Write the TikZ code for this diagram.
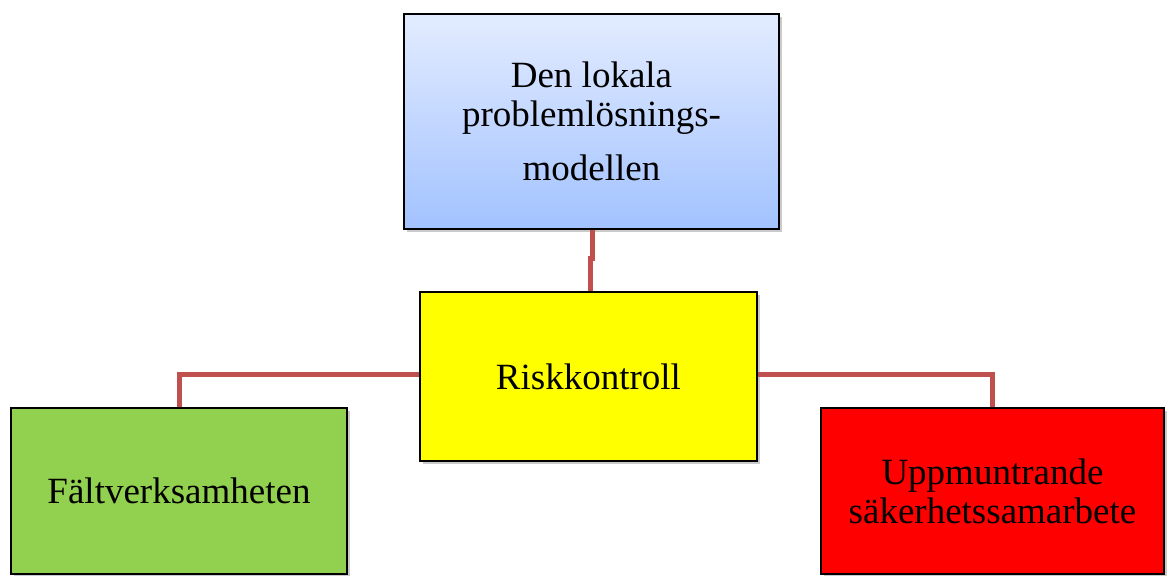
\documentclass[tikz,border=0pt]{standalone}
\usepackage{fontspec}
\setmainfont{Liberation Serif}
\usetikzlibrary{shadows}
\definecolor{conncol}{HTML}{C0504D}
\definecolor{bluetop}{HTML}{E3ECFF}
\definecolor{bluebot}{HTML}{A2C2FF}
\definecolor{greenfill}{HTML}{92D050}
\definecolor{yellowfill}{HTML}{FFFF00}
\definecolor{redfill}{HTML}{FF0000}
\tikzset{
  box/.style={draw=black, line width=2pt, rectangle, inner sep=0pt, align=center,
    font=\fontsize{37}{39}\selectfont, text=black,
    drop shadow={shadow xshift=3pt, shadow yshift=-3pt, opacity=0.35, fill=black!60}},
  conn/.style={draw=conncol, line width=5pt}
}
\begin{document}
\begin{tikzpicture}[x=1pt,y=-1pt]
\useasboundingbox (0,0) rectangle (1171,576);
\node[box, minimum width=375pt, minimum height=215pt, top color=bluetop, bottom color=bluebot]
  (top) at (591.5,121.5) {Den lokala\\problemlösnings-\\[15pt]modellen};
\node[box, minimum width=337pt, minimum height=169pt, fill=yellowfill]
  (risk) at (588.5,376.5) {Riskkontroll};
\node[box, minimum width=336pt, minimum height=166pt, fill=greenfill]
  (falt) at (179,491) {Fältverksamheten};
\node[box, minimum width=343pt, minimum height=166pt, fill=redfill]
  (upp) at (992.5,491) {Uppmuntrande\\säkerhetssamarbete};
\coordinate (jog) at (592.5,258);
\draw[conn] (top.south -| jog) -- (jog) -- (jog -| 590,0) -- (risk.north -| 590,0);
\draw[conn] ([yshift=2.5pt]risk.west) -| (falt.north);
\draw[conn] ([yshift=2.5pt]risk.east) -| (upp.north);
\end{tikzpicture}
\end{document}
